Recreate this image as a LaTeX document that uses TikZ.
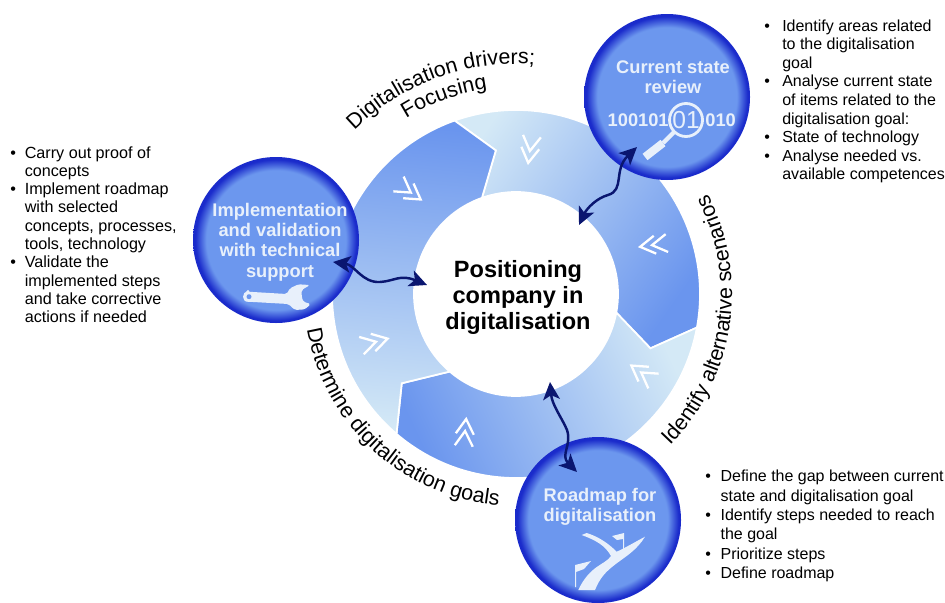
\documentclass[tikz,border=0pt]{standalone}
\usepackage{fontspec}
\setmainfont{Liberation Sans}
\usetikzlibrary{arrows.meta,decorations.text}
\definecolor{ringdark}{HTML}{6A95EE}
\definecolor{ringpale}{HTML}{D4E9F6}
\definecolor{ballmid}{HTML}{6C97EE}
\definecolor{ballrim}{HTML}{1A2BCB}
\definecolor{navy}{HTML}{0A1670}
\definecolor{balltext}{HTML}{E8F0FB}
\pgfdeclareradialshading{ball}{\pgfpoint{0bp}{0bp}}{color(0bp)=(ballmid); color(21bp)=(ballmid); color(24.3bp)=(ballrim); color(25bp)=(ballrim); color(50bp)=(ballrim)}
\tikzset{
  ballnode/.style={circle,minimum size=166*0.02cm,inner sep=0pt,shading=ball},
  balllabel/.style={text=balltext,font=\fontsize{10.4}{11.5}\selectfont\bfseries,align=center,inner sep=0pt},
  chevline/.style={white,line width=1.3pt,line join=miter},
  iconfill/.style={fill=balltext,draw=none},
  waveline/.style={navy,line width=1.4pt,{Stealth[length=10pt,width=9.5pt,inset=2.5pt]}-{Stealth[length=10pt,width=9.5pt,inset=2.5pt]}},
  curvelabel/.style={decorate,decoration={text along path,text align=center,text={|\fontsize{12.2}{14}\selectfont|#1}}},
  bulletlist/.style={inner sep=0pt,anchor=north west},
}
\begin{document}
\begin{tikzpicture}
        [x=0.02cm,y=-0.02cm]
        \useasboundingbox (0,0) rectangle (945,602);

        \begin{scope}[shift={(516,294)}]
        \foreach \a/\s in {10.5/-125,130.5/115,250.5/-5}
        {
          \pgfmathsetmacro{\b}{\a-120}
          \pgfmathsetmacro{\t}{\a+11.5}
          \pgfmathsetmacro{\u}{\b+11.5}
          \draw[white,line width=1pt,top color=ringdark,bottom color=ringpale,shading angle=\s]
            (\b:184) arc[start angle=\b,end angle=\a,radius=184] -- (\t:145) -- (\a:102)
            arc[start angle=\a,end angle=\b,radius=102] -- (\u:145) -- cycle;
        }
        \end{scope}

        \foreach \x/\y/\r in {530/150/-98,653/245/188,642/373/145,465/432/85,375/342/15,410/192/-35}
        {
          \draw[chevline,shift={(\x,\y)},rotate=\r] (-14,-9) -- (1,0) -- (-14,9);
          \draw[chevline,shift={(\x,\y)},rotate=\r] (-2,-9) -- (13,0) -- (-2,9);
        }

        \node[circle,fill=white,minimum size=204*0.02cm,inner sep=0pt] (hub) at (516,294) {};
        \node[inner sep=0pt,align=center,font=\fontsize{13.4}{14.8}\selectfont\bfseries] (hubtxt) at (518,297)
          {Positioning\\company in\\digitalisation};

        \node[ballnode] (review) at (667,97) {};
        \node[ballnode] (impl) at (276,240) {};
        \node[ballnode] (roadmap) at (598,520) {};

        \node[balllabel] (reviewtxt) at (673,77) {Current state\\review};
        \node[balllabel] (impltxt) at (280,242) {Implementation\\and validation\\with technical\\support};
        \node[balllabel] (roadtxt) at (600,507) {Roadmap for\\digitalisation};

        \node[balllabel,anchor=east] (bitsa) at (669,120) {100101};
        \node[balllabel,anchor=west] (bitsb) at (705,120) {010};
        \node[text=balltext,inner sep=0pt,font=\fontsize{14}{14}\selectfont] (bitsc) at (686,120) {01};
        \draw[balltext,line width=1.6pt] (686,120) circle (16.5);
        \draw[balltext,line width=2.4pt] (675,131) -- (663,143);
        \draw[balltext,line width=4.6pt] (663,143) -- (645,157);

        \path[iconfill,rounded corners=1pt] (248,291.7) -- (286.7,294) -- (290,288.3) -- (298.3,284.3)
          -- (310,285) -- (301.7,290) -- (301.7,296.7) -- (303.3,301.7) -- (310.7,304) -- (305,309.3)
          -- (295,310) -- (288.3,304) -- (248,301.7) arc[start angle=90,end angle=270,radius=5] -- cycle;
        \fill[ballmid] (249,296.7) circle (2.5);

        \path[iconfill] (578.3,590) .. controls (590,565) and (605,565) .. (611,556)
          .. controls (605,545) and (595,540) .. (581.7,535) -- (586.7,533) .. controls (600,537) and (610,545) .. (616.7,551.7)
          .. controls (625,548) and (635,542) .. (645,536.7) .. controls (637,550) and (625,557) .. (616.7,563.3)
          .. controls (605,572) and (600,578) .. (595,590) -- cycle;
        \path[iconfill] (575,565) -- (591,561) -- (584,569) -- (576,572) -- (576,587) -- (575,587) -- cycle;
        \path[iconfill] (612,536) -- (624,533) -- (624,551) -- (623,551) -- (623,539) -- (617,540) -- cycle;

        \coordinate (hubR) at (579,225);
        \coordinate (ballR) at (637,147);
        \coordinate (hubI) at (427,285);
        \coordinate (ballI) at (333,262);
        \coordinate (hubM) at (550,382);
        \coordinate (ballM) at (577,472);
        \draw[waveline] (hubR) .. controls (587,208) and (597,198) .. (608,195)
          .. controls (625,190) and (613,170) .. (ballR);
        \draw[waveline] (ballI) .. controls (355,265) and (362,283) .. (380,282)
          .. controls (395,281) and (400,274) .. (hubI);
        \draw[waveline] (hubM) .. controls (552,405) and (562,418) .. (567,430)
          .. controls (572,445) and (560,455) .. (ballM);

        \begin{scope}[shift={(516,294)}]
        \path[curvelabel={Digitalisation drivers;}] (224:230) arc[start angle=224,end angle=276,radius=230];
        \path[curvelabel={Focusing}] (235:207) arc[start angle=235,end angle=265,radius=207];
        \path[curvelabel={Identify alternative scenarios}] (45:216) arc[start angle=45,end angle=-28,radius=216];
        \path[curvelabel={Determine digitalisation goals}] (171:212) arc[start angle=171,end angle=94,radius=212];
        \end{scope}

        \node[bulletlist,font=\fontsize{9.2}{10.4}\selectfont] (listimpl) at (10,145)
          {\begin{tabular}{@{}l@{\hspace{5pt}}l@{}}
          • & Carry out proof of\\ & concepts\\
          • & Implement roadmap\\ & with selected\\ & concepts, processes,\\ & tools, technology\\
          • & Validate the\\ & implemented steps\\ & and take corrective\\ & actions if needed
          \end{tabular}};
        \node[bulletlist,font=\fontsize{9.1}{10.55}\selectfont] (listreview) at (764,18)
          {\begin{tabular}{@{}l@{\hspace{7pt}}l@{}}
          • & Identify areas related\\ & to the digitalisation\\ & goal\\
          • & Analyse current state\\ & of items related to the\\ & digitalisation goal:\\
          • & State of technology\\
          • & Analyse needed vs.\\ & available competences
          \end{tabular}};
        \node[bulletlist,font=\fontsize{9.1}{11}\selectfont] (listroad) at (705,468)
          {\begin{tabular}{@{}l@{\hspace{5.5pt}}l@{}}
          • & Define the gap between current\\ & state and digitalisation goal\\
          • & Identify steps needed to reach\\ & the goal\\
          • & Prioritize steps\\
          • & Define roadmap
          \end{tabular}};
      \end{tikzpicture}
\end{document}
